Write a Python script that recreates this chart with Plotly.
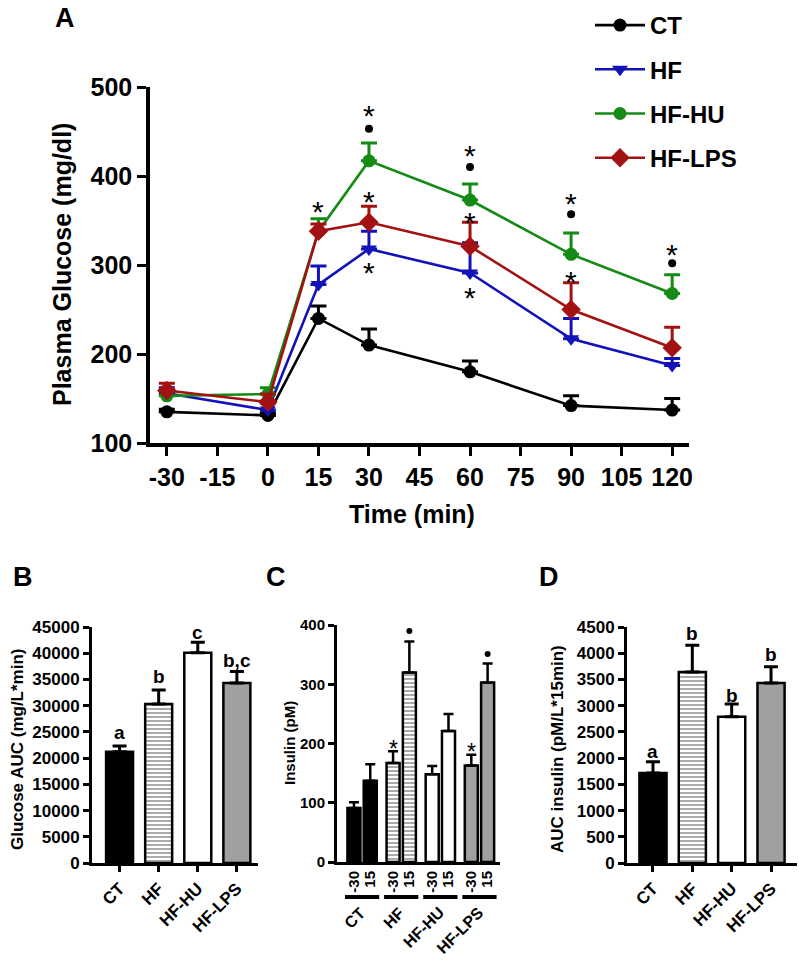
import plotly.graph_objects as go

W, H = 799, 964

def fx(px):
    return px / W

def fy(py):
    return 1 - py / H

FONT = "Liberation Sans, Arial, sans-serif"

# ---------------- Panel A data ----------------
time_min = [-30, 0, 15, 30, 60, 90, 120]
time_ticks = [-30, -15, 0, 15, 30, 45, 60, 75, 90, 105, 120]
time_ticktext = ["-30", "-15", "0", "15", "30", "45", "60", "75", "90", "105", "120"]
ct_glu = [135, 131, 240, 210, 180, 142, 137]
ct_err = [3, 3, 14, 18, 12, 11, 13]
hf_glu = [156, 137, 278, 318, 291, 217, 187]
hf_err = [6, 8, 21, 20, 34, 23, 8]
hu_glu = [153, 155, 338, 417, 373, 312, 268]
hu_err = [6, 7, 14, 20, 18, 24, 21]
lps_glu = [159, 146, 338, 348, 321, 250, 207]
lps_err = [8, 9, 8, 18, 27, 30, 23]

star_x = [15, 30, 30, 30, 60, 60, 60, 90, 90, 120]
star_y = [370, 478, 382, 302, 433, 358, 274, 379, 292, 322]
dot_x = [30, 60, 90, 120]
dot_y = [453, 410, 357, 302]

# ---------------- Panel B data ----------------
groups = ["CT", "HF", "HF-HU", "HF-LPS"]
glu_auc = [21200, 30300, 40100, 34300]
glu_auc_err = [1100, 2700, 2000, 2200]
glu_letters = ["a", "b", "c", "b,c"]
glu_letter_y = [24800, 35500, 44000, 38700]

# ---------------- Panel C data ----------------
ins_times = ["-30", "15"]
ins_m30 = [91, 167, 148, 163]
ins_m30_err = [10, 20, 14, 18]
ins_15 = [137, 320, 221, 303]
ins_15_err = [28, 52, 29, 32]
ins_star_groups = [1, 3]      # '*' above -30 bars of HF and HF-LPS
ins_star_y = [202, 197]
ins_dot_groups = [1, 3]       # dot above 15 bars of HF and HF-LPS
ins_dot_y = [390, 351]

# ---------------- Panel D data ----------------
ins_auc = [1715, 3640, 2790, 3430]
ins_auc_err = [215, 510, 240, 310]
ins_letters = ["a", "b", "b", "b"]
ins_letter_y = [2120, 4370, 3200, 3970]

# ---------------- styles ----------------
col_ct = "#000000"
col_hf = "#1212B8"
col_hu = "#158A15"
col_lps = "#A31212"
bar_fill = ["#000000", "#FFFFFF", "#FFFFFF", "#A0A0A0"]
bar_pattern = ["", "-", "", ""]

fig = go.Figure()

series = [
    ("CT", ct_glu, ct_err, col_ct, "circle", 13),
    ("HF", hf_glu, hf_err, col_hf, "triangle-down", 14),
    ("HF-HU", hu_glu, hu_err, col_hu, "circle", 13),
    ("HF-LPS", lps_glu, lps_err, col_lps, "diamond", 15),
]
for i, (name, vals, errs, col, sym, sz) in enumerate(series):
    fig.add_trace(go.Scatter(
        x=time_min, y=vals, name=name, mode="lines+markers",
        line=dict(color=col, width=2.6),
        marker=dict(symbol=sym, size=sz, color=col),
        error_y=dict(type="data", symmetric=False, array=errs,
                     arrayminus=[0] * len(errs), color=col, thickness=3, width=8),
        xaxis="x", yaxis="y", legendgroup=name, cliponaxis=False,
    ))

fig.add_trace(go.Scatter(x=dot_x, y=dot_y, mode="markers", showlegend=False,
                         marker=dict(size=8, color="black"), xaxis="x", yaxis="y",
                         cliponaxis=False))

bar_marker = dict(color=bar_fill, line=dict(color="black", width=2.5),
                  pattern=dict(shape=bar_pattern, fgcolor="black", size=4, solidity=0.45))

# Panel B bars
fig.add_trace(go.Bar(
    x=groups, y=glu_auc, width=0.69, showlegend=False, marker=bar_marker,
    error_y=dict(type="data", symmetric=False, array=glu_auc_err,
                 arrayminus=[0] * 4, color="black", thickness=3, width=7),
    xaxis="x2", yaxis="y2",
))

# Panel C bars
pos_m30 = [g * 2.4 for g in range(4)]
pos_15 = [g * 2.4 + 1 for g in range(4)]
fig.add_trace(go.Bar(
    x=pos_m30, y=ins_m30, width=0.8, showlegend=False, marker=bar_marker,
    error_y=dict(type="data", symmetric=False, array=ins_m30_err,
                 arrayminus=[0] * 4, color="black", thickness=2.5, width=5),
    xaxis="x3", yaxis="y3",
))
fig.add_trace(go.Bar(
    x=pos_15, y=ins_15, width=0.8, showlegend=False, marker=bar_marker,
    error_y=dict(type="data", symmetric=False, array=ins_15_err,
                 arrayminus=[0] * 4, color="black", thickness=2.5, width=5),
    xaxis="x3", yaxis="y3",
))
fig.add_trace(go.Scatter(x=[g * 2.4 + 1 for g in ins_dot_groups], y=ins_dot_y,
                         mode="markers", showlegend=False,
                         marker=dict(size=6, color="black"), xaxis="x3", yaxis="y3",
                         cliponaxis=False))

# Panel D bars
fig.add_trace(go.Bar(
    x=groups, y=ins_auc, width=0.69, showlegend=False, marker=bar_marker,
    error_y=dict(type="data", symmetric=False, array=ins_auc_err,
                 arrayminus=[0] * 4, color="black", thickness=3, width=7),
    xaxis="x4", yaxis="y4",
))

def axis_common(size, lw, tl):
    return dict(showgrid=False, zeroline=False, showline=True, linecolor="black",
                linewidth=lw, ticks="outside", ticklen=tl, tickwidth=lw * 0.9,
                tickcolor="black", automargin=False,
                tickfont=dict(family=FONT, size=size, color="black", weight="bold"))

annotations = []
shapes = []

fig.update_layout(
    xaxis=dict(domain=[fx(150), fx(689)], range=[-35, 125], anchor="y",
               tickvals=time_ticks, ticktext=time_ticktext, **axis_common(25, 3.5, 9)),
    yaxis=dict(domain=[fy(443), fy(87)], range=[100, 500], anchor="x",
               tickvals=[100, 200, 300, 400, 500], **axis_common(25, 3.5, 9)),
    xaxis2=dict(domain=[fx(92), fx(258)], range=[-0.705, 3.54], anchor="y2",
                type="category", tickangle=-45, **axis_common(17, 3, 6)),
    yaxis2=dict(domain=[fy(863), fy(627)], range=[0, 45000], anchor="x2",
                tickvals=list(range(0, 45001, 5000)), tickformat="d", **axis_common(17, 3, 6)),
    xaxis3=dict(domain=[fx(337), fx(500)], range=[-1.04, 8.96], anchor="y3",
                tickvals=pos_m30 + pos_15, ticktext=[ins_times[0]] * 4 + [ins_times[1]] * 4,
                tickangle=-90, **axis_common(15, 3, 0)),
    xaxis5=dict(domain=[fx(337), fx(500)], range=[-1.04, 8.96], anchor="y3",
                overlaying="x3", side="bottom", tickvals=[g * 2.4 + 0.5 for g in range(4)],
                showticklabels=False, showgrid=False, zeroline=False, showline=False,
                ticks="outside", ticklen=7, tickwidth=2.7, tickcolor="black"),
    yaxis3=dict(domain=[fy(862), fy(625)], range=[0, 400], anchor="x3",
                tickvals=[0, 100, 200, 300, 400], **axis_common(15, 3, 6)),
    xaxis4=dict(domain=[fx(627), fx(797)], range=[-0.66, 3.66], anchor="y4",
                type="category", tickangle=-45, **axis_common(17, 3, 6)),
    yaxis4=dict(domain=[fy(863), fy(627)], range=[0, 4500], anchor="x4",
                tickvals=list(range(0, 4501, 500)), tickformat="d", **axis_common(17, 3, 6)),
)
fig.layout.xaxis3.ticklen = 0

# significance stars panel A
for x, y in zip(star_x, star_y):
    annotations.append(dict(x=x, y=y, xref="x", yref="y", text="*", showarrow=False,
                            xanchor="center", yanchor="middle",
                            yshift=-9, font=dict(family=FONT, size=30, color="black")))
# letters panel B and D
for g, t, y in zip(groups, glu_letters, glu_letter_y):
    annotations.append(dict(x=g, y=y, xref="x2", yref="y2", text=t, showarrow=False,
                            xanchor="center", yanchor="middle",
                            font=dict(family=FONT, size=19, color="black", weight="bold")))
for g, t, y in zip(groups, ins_letters, ins_letter_y):
    annotations.append(dict(x=g, y=y, xref="x4", yref="y4", text=t, showarrow=False,
                            xanchor="center", yanchor="middle",
                            font=dict(family=FONT, size=19, color="black", weight="bold")))
# stars panel C
for g, y in zip(ins_star_groups, ins_star_y):
    annotations.append(dict(x=g * 2.4, y=y, xref="x3", yref="y3", text="*", showarrow=False,
                            xanchor="center", yanchor="middle",
                            yshift=-7, font=dict(family=FONT, size=23, color="black")))
# group lines and labels panel C
for g, name in enumerate(groups):
    base = g * 2.4
    shapes.append(dict(type="line", xref="x3", yref="paper", x0=base - 0.55, x1=base + 1.55,
                       y0=fy(897), y1=fy(897), line=dict(color="black", width=4)))
    annotations.append(dict(x=base + 1.1, y=fy(901), xref="x3", yref="paper", text=name,
                            textangle=-45, xanchor="right", yanchor="top", showarrow=False,
                            font=dict(family=FONT, size=16, color="black", weight="bold")))

def ptext(x, y, text, size, angle=0):
    return dict(x=fx(x), y=fy(y), xref="paper", yref="paper", text=text, textangle=angle,
                xanchor="center", yanchor="middle", showarrow=False,
                font=dict(family=FONT, size=size, color="black", weight="bold"))

annotations += [
    ptext(62, 265, "Plasma Glucose (mg/dl)", 25, -90),
    ptext(412, 514, "Time (min)", 25),
    ptext(17, 749, "Glucose AUC (mg/L*min)", 17, -90),
    ptext(289, 743, "Insulin (pM)", 15, -90),
    ptext(557, 749, "AUC insulin (pM/L*15min)", 17, -90),
    ptext(65, 18, "A", 27),
    ptext(23, 577, "B", 27),
    ptext(276, 577, "C", 27),
    ptext(549, 577, "D", 27),
]

fig.update_layout(
    width=W, height=H, margin=dict(l=0, r=0, t=0, b=0),
    paper_bgcolor="white", plot_bgcolor="white",
    annotations=annotations, shapes=shapes,
    showlegend=True,
    legend=dict(x=fx(590), y=fy(3), xanchor="left", yanchor="top",
                font=dict(family=FONT, size=24, color="black", weight="bold"),
                itemwidth=50, tracegroupgap=10, bgcolor="rgba(0,0,0,0)"),
    barmode="overlay",
)

fig.write_html("out.html", config={"displayModeBar": False},
               post_script="document.body.style.margin='0px';")
